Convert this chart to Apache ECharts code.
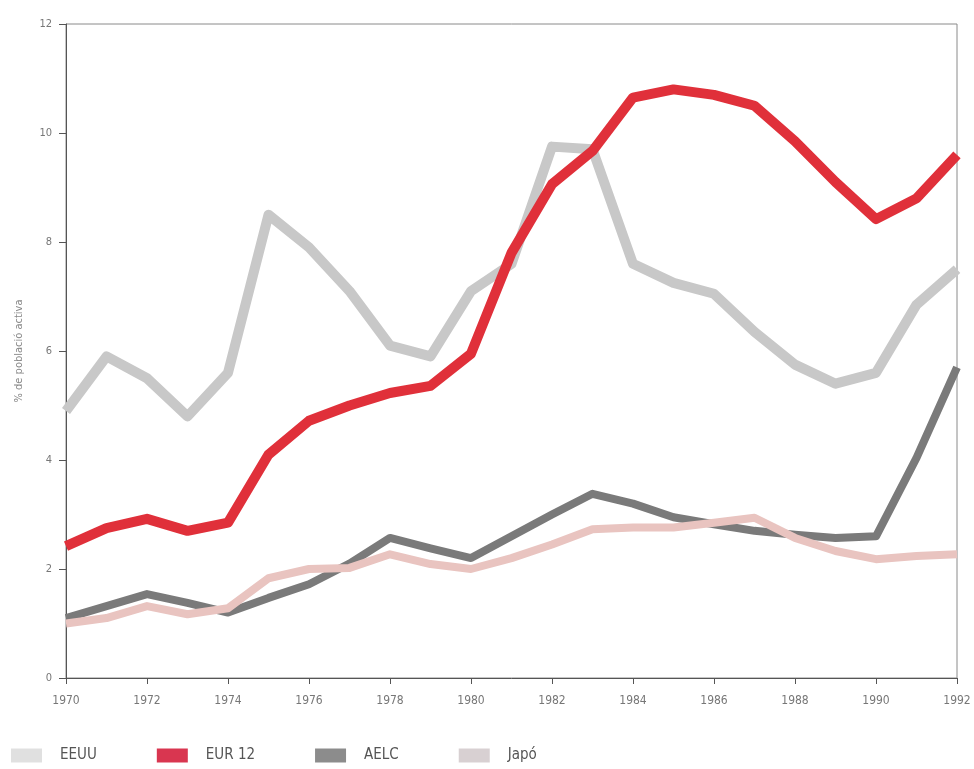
<!DOCTYPE html>
<html>
<head>
<meta charset="utf-8">
<script src="https://cdn.jsdelivr.net/npm/echarts@6/dist/echarts.min.js"></script>
<style>
  html, body { margin: 0; padding: 0; background: #fff; }
  #chart { width: 974px; height: 769px; }
</style>
</head>
<body>
<div id="chart"></div>
<script>
const years = ['1970', '1971', '1972', '1973', '1974', '1975', '1976', '1977', '1978', '1979', '1980',
  '1981', '1982', '1983', '1984', '1985', '1986', '1987', '1988', '1989', '1990', '1991', '1992']

const eeuu = [4.9, 5.9, 5.5, 4.8, 5.6, 8.5, 7.9, 7.1, 6.1, 5.9, 7.1,
  7.6, 9.75, 9.7, 7.6, 7.25, 7.05, 6.35, 5.75, 5.4, 5.6, 6.85, 7.5]
const eur12 = [2.42, 2.75, 2.92, 2.7, 2.85, 4.1, 4.72, 5.0, 5.23, 5.36, 5.95,
  7.8, 9.06, 9.67, 10.65, 10.8, 10.7, 10.5, 9.85, 9.1, 8.42, 8.8, 9.6]
const aelc = [1.1, 1.32, 1.54, 1.38, 1.2, 1.47, 1.72, 2.1, 2.57, 2.38, 2.2,
  2.6, 3.0, 3.38, 3.2, 2.95, 2.82, 2.7, 2.63, 2.57, 2.6, 4.04, 5.7]
const japo = [1.0, 1.1, 1.32, 1.17, 1.28, 1.83, 2.0, 2.02, 2.27, 2.09, 2.0,
  2.2, 2.45, 2.73, 2.76, 2.76, 2.85, 2.94, 2.57, 2.33, 2.18, 2.24, 2.27]

const narrow = 'Liberation Sans Narrow, DejaVu Sans Condensed, sans-serif'

const chart = echarts.init(document.getElementById('chart'))

function lineSeries(name, data, color, width) {
  return {
    name: name,
    type: 'line',
    data: data,
    showSymbol: false,
    symbol: 'none',
    lineStyle: { width: width, color: color, join: 'round' },
    itemStyle: { color: color },
    emphasis: { disabled: true }
  }
}

chart.setOption({
  animation: false,
  grid: {
    left: 66,
    right: 17,
    top: 24,
    bottom: 91,
    show: true,
    borderColor: '#8a8a8a',
    borderWidth: 1
  },
  legend: {
    left: 6,
    bottom: 1,
    icon: 'rect',
    itemWidth: 31,
    itemHeight: 14,
    itemGap: 60,
    textStyle: { color: '#555', fontSize: 15, fontFamily: narrow, padding: [0, 0, 0, 13] },
    data: [
      { name: 'EEUU', itemStyle: { color: '#e0e0e0' } },
      { name: 'EUR 12', itemStyle: { color: '#d93650' } },
      { name: 'AELC', itemStyle: { color: '#8c8c8c' } },
      { name: 'Japó', itemStyle: { color: '#d8d0d2' } }
    ]
  },
  xAxis: {
    type: 'category',
    data: years,
    boundaryGap: false,
    axisLine: { lineStyle: { color: '#555', width: 1 } },
    axisTick: { interval: 1, length: 6, lineStyle: { color: '#555' } },
    axisLabel: {
      interval: 1,
      color: '#777',
      fontSize: 12,
      margin: 17,
      fontFamily: narrow
    }
  },
  yAxis: {
    type: 'value',
    min: 0,
    max: 12,
    interval: 2,
    name: '% de població activa',
    nameLocation: 'middle',
    nameGap: 41,
    nameTextStyle: { color: '#888', fontSize: 11, fontFamily: narrow },
    axisLine: { show: true, lineStyle: { color: '#555', width: 1 } },
    axisTick: { show: true, length: 7, lineStyle: { color: '#555' } },
    axisLabel: { color: '#777', fontSize: 11, margin: 14, fontFamily: narrow },
    splitLine: { show: false }
  },
  series: [
    lineSeries('EEUU', eeuu, '#c8c8c8', 10),
    lineSeries('AELC', aelc, '#7a7a7a', 8),
    lineSeries('Japó', japo, '#e9c4c0', 8),
    lineSeries('EUR 12', eur12, '#e0303a', 10)
  ]
})
</script>
</body>
</html>
